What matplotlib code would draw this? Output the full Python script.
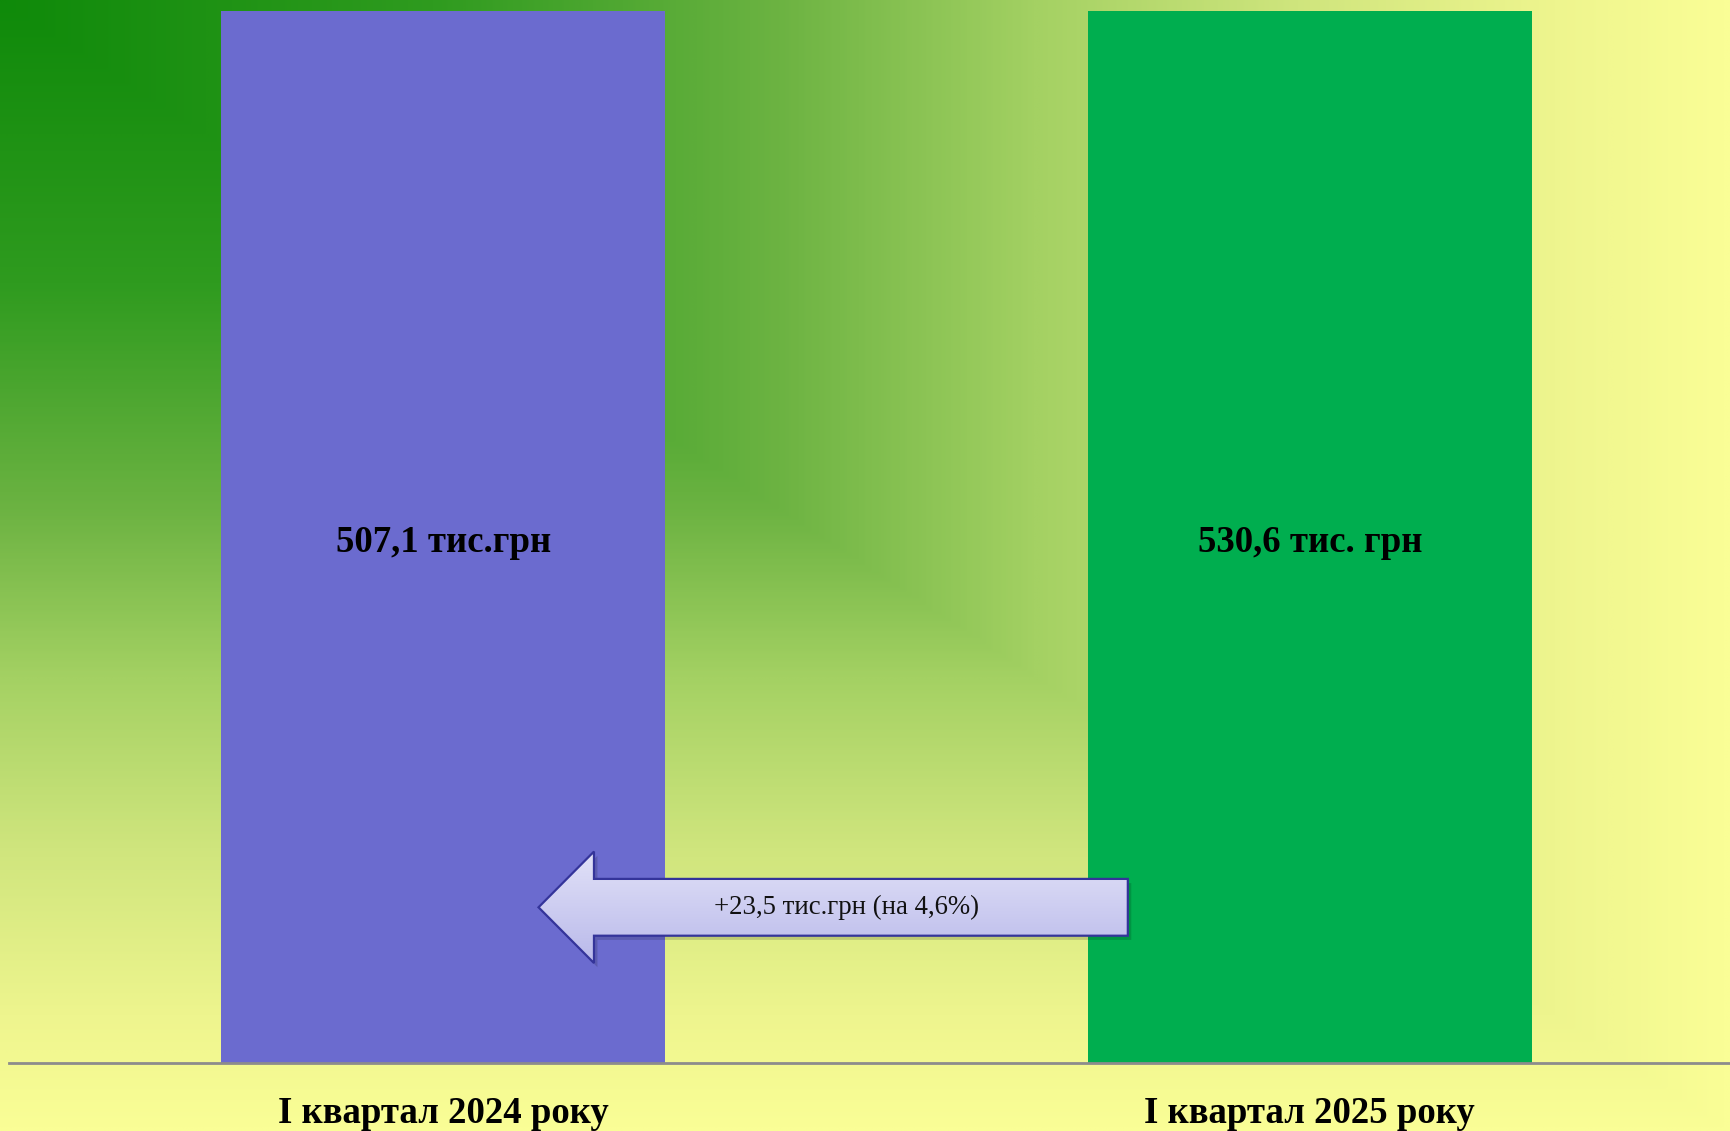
import matplotlib.pyplot as plt
import numpy as np
from matplotlib.colors import LinearSegmentedColormap
from matplotlib.patches import Polygon
from matplotlib.transforms import blended_transform_factory

# дані
periods = ["I квартал 2024 року", "I квартал 2025 року"]
values = [507.1, 530.6]
value_labels = ["507,1 тис.грн", "530,6 тис. грн"]
bar_colors = ["#6b6bcf", "#00ae4f"]
diff_label = "+23,5 тис.грн (на 4,6%)"

plt.rcParams['font.family'] = ['Liberation Serif', 'DejaVu Serif']

fig = plt.figure(figsize=(17.31, 11.31), dpi=100)

# фон: градієнт від верхнього лівого кута
bg_cmap = LinearSegmentedColormap.from_list("bg", [
    (0.0, "#0f8a0a"), (0.25, "#2f9b1f"), (0.45, "#6cb342"),
    (0.6, "#a4d163"), (0.75, "#cfe57d"), (0.9, "#eef58e"), (1.0, "#fafe96")])
bg = fig.add_axes([0, 0, 1, 1], zorder=0)
gx, gy = np.meshgrid(np.linspace(0, 1, 600), np.linspace(0, 1, 400))
bg.imshow(np.maximum(gx, gy), cmap=bg_cmap, aspect='auto', extent=[0, 1, 1, 0],
          interpolation='bilinear')
bg.set_xlim(0, 1)
bg.set_ylim(1, 0)
bg.axis('off')

ax = fig.add_axes([9 / 1731, 68 / 1131, 1 - 9 / 1731, 1052 / 1131], zorder=1)
ax.patch.set_alpha(0)
x = np.arange(len(periods))
ax.bar(x, values, width=0.512, color=bar_colors, zorder=2)
ax.set_xlim(-0.501, 1.486)
ax.set_ylim(0, 500)

# підписи значень посередині видимої частини стовпців
trans = blended_transform_factory(ax.transData, ax.transAxes)
for xi, lab in zip(x, value_labels):
    ax.text(xi, 0.495, lab, transform=trans, ha='center', va='center',
            fontsize=26.5, fontweight='bold', color='black', zorder=4)

ax.set_xticks(x)
ax.set_xticklabels(periods, fontsize=26.5, fontweight='bold')
ax.tick_params(axis='x', length=0, pad=24)
ax.set_yticks([])
for s in ['top', 'left', 'right']:
    ax.spines[s].set_visible(False)
ax.spines['bottom'].set_color('#8c8c8c')
ax.spines['bottom'].set_linewidth(2)

# стрілка з різницею
tip, head, tail = 0.11, 0.174, 0.79
yc, hh, sh = 0.148, 0.053, 0.027
pts = [(tip, yc), (head, yc + hh), (head, yc + sh), (tail, yc + sh),
       (tail, yc - sh), (head, yc - sh), (head, yc - hh)]
shadow = Polygon([(px + 0.004, py - 0.004) for px, py in pts], closed=True,
                 transform=trans, facecolor='#000000', alpha=0.15, edgecolor='none', zorder=3)
ax.add_patch(shadow)
arrow = Polygon(pts, closed=True, transform=trans, facecolor='none',
                edgecolor='#34349a', linewidth=1.6, zorder=3.2)
ax.add_patch(arrow)
grad_cmap = LinearSegmentedColormap.from_list("arr", ["#b9b9ea", "#e2e2f8"])
img = ax.imshow(np.linspace(0, 1, 100).reshape(-1, 1), cmap=grad_cmap, aspect='auto',
                extent=[tip, tail, yc - hh, yc + hh], origin='lower', transform=trans,
                zorder=3.1)
fill = Polygon(pts, closed=True, transform=trans, facecolor='none', edgecolor='none')
ax.add_patch(fill)
img.set_clip_path(fill)
ax.text(0.465, yc, diff_label, transform=trans, ha='center',
        va='center', fontsize=19.3, color='#111111', zorder=4)

fig.savefig("out.png", dpi=100)
